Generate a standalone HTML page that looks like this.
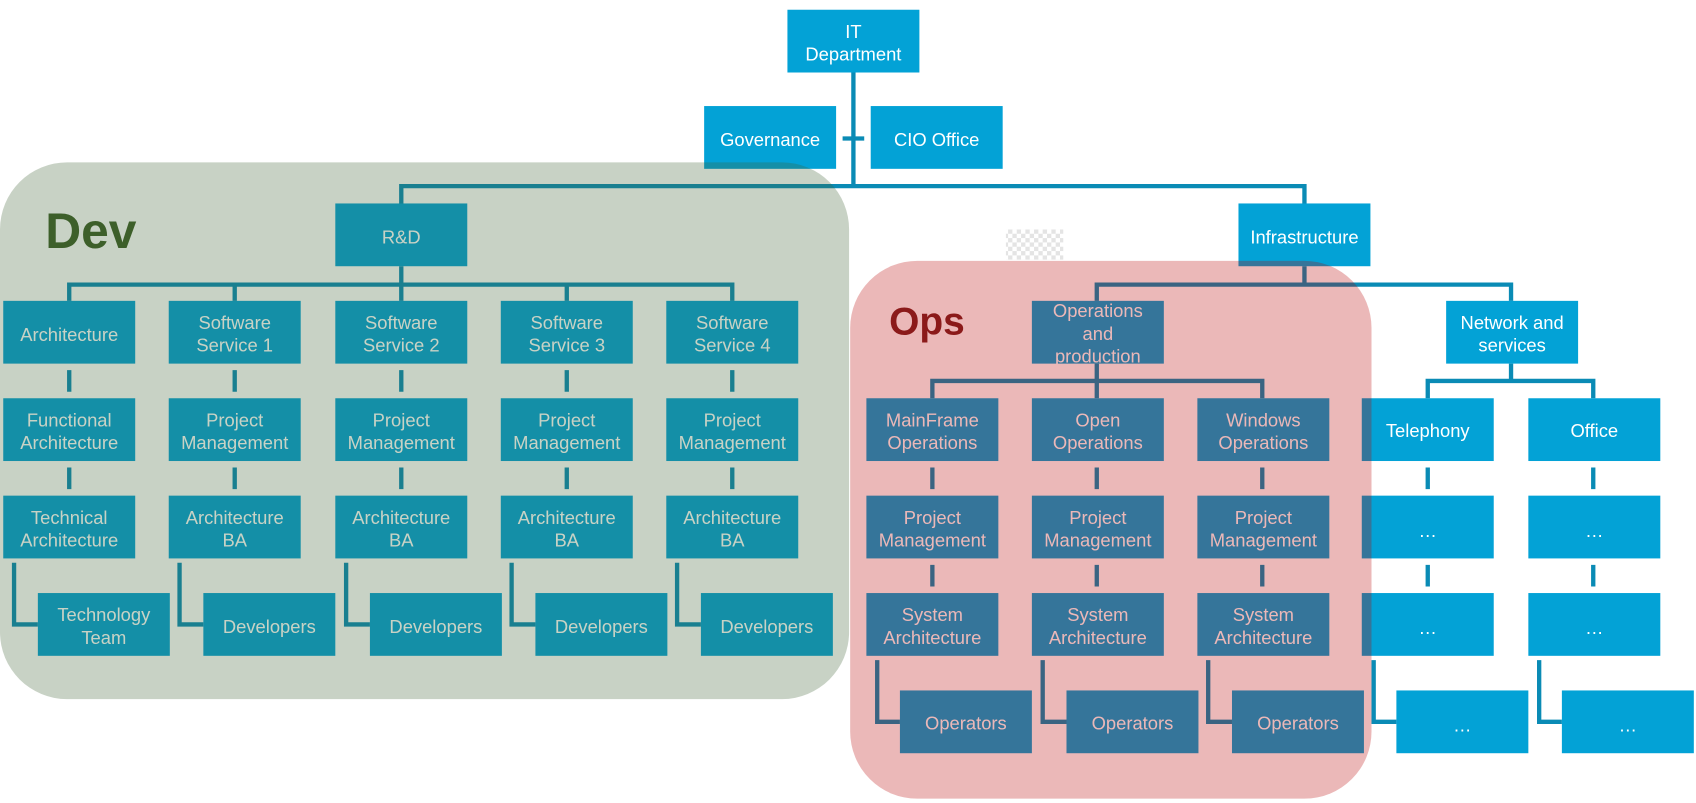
<!DOCTYPE html>
<html><head><meta charset="utf-8"><style>
html,body{margin:0;padding:0;background:#fff;width:1696px;height:803px;overflow:hidden}
svg{display:block}
text{font-family:"Liberation Sans",sans-serif;font-size:17px;fill:#fff;text-anchor:middle}
.b{fill:#03a2d6}
.l{stroke:#0a8bb5;stroke-width:4;fill:none}
</style></head><body>
<svg width="1696" height="803" viewBox="0 0 1568 742" preserveAspectRatio="none">
<defs><pattern id="ck" width="8" height="8" patternUnits="userSpaceOnUse"><rect width="8" height="8" fill="#fff"/><rect width="4" height="4" fill="#e4e4e4"/><rect x="4" y="4" width="4" height="4" fill="#e4e4e4"/></pattern></defs>
<rect x="930" y="212" width="53" height="28" fill="url(#ck)"/>
<g class="l">
<path d="M789 67V172M779 128H799M371 188V172H1206V188"/>
<path d="M371 246V263M64 278V263H677V278M217 263V278M371 263V278M524 263V278"/>
<path d="M64 342V362M217 342V362M371 342V362M524 342V362M677 342V362"/>
<path d="M64 432V452M217 432V452M371 432V452M524 432V452M677 432V452"/>
<path d="M13 520V577H35M166 520V577H188M320 520V577H342M473 520V577H495M626 520V577H648"/>
<path d="M1206 246V263M1014 278V263H1397V278"/>
<path d="M1014 336V352M862 368V352H1167V368M1014 352V368"/>
<path d="M1397 336V352M1320 368V352H1473V368"/>
<path d="M862 432V452M1014 432V452M1167 432V452M1320 432V452M1473 432V452"/>
<path d="M862 522V542M1014 522V542M1167 522V542M1320 522V542M1473 522V542"/>
<path d="M811 610V667H832M964 610V667H986M1117 610V667H1139M1270 610V667H1291M1423 610V667H1444"/>
</g>
<g class="b">
<rect x="728" y="9" width="122" height="58"/><rect x="651" y="98" width="122" height="58"/><rect x="805" y="98" width="122" height="58"/>
<rect x="310" y="188" width="122" height="58"/><rect x="1145" y="188" width="122" height="58"/>
<rect x="3" y="278" width="122" height="58"/><rect x="156" y="278" width="122" height="58"/><rect x="310" y="278" width="122" height="58"/><rect x="463" y="278" width="122" height="58"/><rect x="616" y="278" width="122" height="58"/>
<rect x="3" y="368" width="122" height="58"/><rect x="156" y="368" width="122" height="58"/><rect x="310" y="368" width="122" height="58"/><rect x="463" y="368" width="122" height="58"/><rect x="616" y="368" width="122" height="58"/>
<rect x="3" y="458" width="122" height="58"/><rect x="156" y="458" width="122" height="58"/><rect x="310" y="458" width="122" height="58"/><rect x="463" y="458" width="122" height="58"/><rect x="616" y="458" width="122" height="58"/>
<rect x="35" y="548" width="122" height="58"/><rect x="188" y="548" width="122" height="58"/><rect x="342" y="548" width="122" height="58"/><rect x="495" y="548" width="122" height="58"/><rect x="648" y="548" width="122" height="58"/>
<rect x="954" y="278" width="122" height="58"/><rect x="1337" y="278" width="122" height="58"/>
<rect x="801" y="368" width="122" height="58"/><rect x="954" y="368" width="122" height="58"/><rect x="1107" y="368" width="122" height="58"/><rect x="1259" y="368" width="122" height="58"/><rect x="1413" y="368" width="122" height="58"/>
<rect x="801" y="458" width="122" height="58"/><rect x="954" y="458" width="122" height="58"/><rect x="1107" y="458" width="122" height="58"/><rect x="1259" y="458" width="122" height="58"/><rect x="1413" y="458" width="122" height="58"/>
<rect x="801" y="548" width="122" height="58"/><rect x="954" y="548" width="122" height="58"/><rect x="1107" y="548" width="122" height="58"/><rect x="1259" y="548" width="122" height="58"/><rect x="1413" y="548" width="122" height="58"/>
<rect x="832" y="638" width="122" height="58"/><rect x="986" y="638" width="122" height="58"/><rect x="1139" y="638" width="122" height="58"/><rect x="1291" y="638" width="122" height="58"/><rect x="1444" y="638" width="122" height="58"/>
</g>
<g>
<text x="789" y="35">IT</text><text x="789" y="56">Department</text>
<text x="712" y="135">Governance</text><text x="866" y="135">CIO Office</text>
<text x="371" y="225">R&amp;D</text><text x="1206" y="225">Infrastructure</text>
<text x="64" y="315">Architecture</text>
<text x="217" y="304">Software</text><text x="217" y="325">Service 1</text>
<text x="371" y="304">Software</text><text x="371" y="325">Service 2</text>
<text x="524" y="304">Software</text><text x="524" y="325">Service 3</text>
<text x="677" y="304">Software</text><text x="677" y="325">Service 4</text>
<text x="64" y="394">Functional</text><text x="64" y="415">Architecture</text>
<text x="217" y="394">Project</text><text x="217" y="415">Management</text>
<text x="371" y="394">Project</text><text x="371" y="415">Management</text>
<text x="524" y="394">Project</text><text x="524" y="415">Management</text>
<text x="677" y="394">Project</text><text x="677" y="415">Management</text>
<text x="64" y="484">Technical</text><text x="64" y="505">Architecture</text>
<text x="217" y="484">Architecture</text><text x="217" y="505">BA</text>
<text x="371" y="484">Architecture</text><text x="371" y="505">BA</text>
<text x="524" y="484">Architecture</text><text x="524" y="505">BA</text>
<text x="677" y="484">Architecture</text><text x="677" y="505">BA</text>
<text x="96" y="574">Technology</text><text x="96" y="595">Team</text>
<text x="249" y="585">Developers</text><text x="403" y="585">Developers</text><text x="556" y="585">Developers</text><text x="709" y="585">Developers</text>
<text x="1015" y="293">Operations</text><text x="1015" y="314">and</text><text x="1015" y="335">production</text>
<text x="1398" y="304">Network and</text><text x="1398" y="325">services</text>
<text x="862" y="394">MainFrame</text><text x="862" y="415">Operations</text>
<text x="1015" y="394">Open</text><text x="1015" y="415">Operations</text>
<text x="1168" y="394">Windows</text><text x="1168" y="415">Operations</text>
<text x="1320" y="404">Telephony</text><text x="1474" y="404">Office</text>
<text x="862" y="484">Project</text><text x="862" y="505">Management</text>
<text x="1015" y="484">Project</text><text x="1015" y="505">Management</text>
<text x="1168" y="484">Project</text><text x="1168" y="505">Management</text>
<text x="1320" y="496">…</text><text x="1474" y="496">…</text>
<text x="862" y="574">System</text><text x="862" y="595">Architecture</text>
<text x="1015" y="574">System</text><text x="1015" y="595">Architecture</text>
<text x="1168" y="574">System</text><text x="1168" y="595">Architecture</text>
<text x="1320" y="586">…</text><text x="1474" y="586">…</text>
<text x="893" y="674">Operators</text><text x="1047" y="674">Operators</text><text x="1200" y="674">Operators</text>
<text x="1352" y="676">…</text><text x="1505" y="676">…</text>
</g>
<rect x="0" y="150" width="785" height="496" rx="62" fill="rgb(63,99,53)" fill-opacity="0.286"/>
<rect x="786" y="241" width="482" height="497" rx="62" fill="rgb(183,0,0)" fill-opacity="0.278"/>
<text x="84" y="229" style="font-size:46px;font-weight:bold;fill:#3d5f2a">Dev</text>
<text x="857" y="309" style="font-size:36px;font-weight:bold;fill:#8b1a1a">Ops</text>
</svg>
</body></html>
